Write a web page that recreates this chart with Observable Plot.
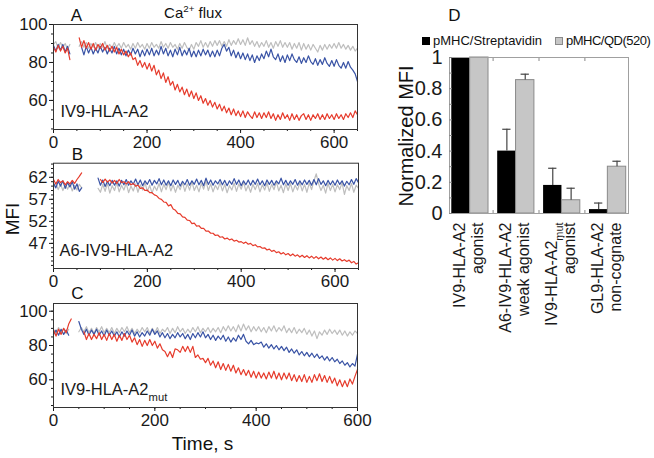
<!DOCTYPE html>
<html><head><meta charset="utf-8">
<script src="https://cdn.jsdelivr.net/npm/d3@7"></script>
<script src="https://cdn.jsdelivr.net/npm/@observablehq/plot@0.6"></script>
<style>
html,body{margin:0;padding:0;background:#fff;}
#root{position:relative;width:654px;height:458px;overflow:hidden;font-family:"Liberation Sans",Arial,Helvetica,sans-serif;color:#111;background:#fff;}
.abs{position:absolute;}
.lbl{position:absolute;transform:translate(-50%,-50%);line-height:1;white-space:nowrap;}
</style></head><body><div id="root"></div>
<script>
// ---------- data: time step of the traces (s) ----------
const STEP = 5;

// Panel A: IV9-HLA-A2, t = 0..650 s
const A_red = [
 88, 85.5, 89, 86, 88.5, 85, 87.5, 81.5, null, null,
 null, 93, 88, 91.5, 87.5, 90.5, 87, 90, 86.5, 89.5,
 87.5, 90, 86.5, 89, 86, 88.5, 85.5, 88, 84.5, 87,
 84, 86, 83, 85, 81.5, 82.5, 78.5, 81, 77.5, 80,
 76.5, 79.5, 75.5, 78.5, 73.5, 76, 71.5, 74.5, 69.5, 72.5,
 68, 70, 65.5, 68.5, 64.5, 67, 63, 66, 62, 65,
 61, 64, 60, 62.5, 58.5, 61, 57.5, 60, 56.5, 59,
 55.5, 58, 54.5, 57, 53.5, 56, 52.5, 55.5, 52, 54.5,
 51.5, 54.5, 51, 54, 52, 50.5, 54, 51, 53.5, 50.5,
 53.5, 51, 54, 50.5, 53, 49.5, 52.5, 50, 53.5, 50.5,
 52.5, 49.5, 53, 50, 52.5, 49.5, 52, 53, 50, 52.5,
 49.5, 52.5, 50.5, 53, 50, 52.5, 50, 53, 50.5, 52.5,
 50, 53, 50.5, 52.5, 50, 53, 51, 53.5, 51, 54.5,
 52.5];
const A_blue = [
 89, 86, 89.5, 86.5, 89.5, 85.5, 88.5, 84.5, null, null,
 null, null, 88, 84, 88.5, 85, 88, 84.5, 87.5, 85,
 88.5, 85.5, 88, 84.5, 87.5, 85, 88.5, 84.5, 87.5, 84,
 87, 83.5, 86.5, 84, 87.5, 84.5, 87, 83, 86.5, 83.5,
 87, 84, 87.5, 83.5, 86.5, 84, 88.5, 84.5, 87.5, 83.5,
 86.5, 83, 87, 84, 88, 83.5, 86.5, 84, 87.5, 83,
 86, 83, 86.5, 83.5, 87, 84, 86.5, 83, 86, 83,
 86.5, 83.5, 87.5, 89.5, 86, 88, 83.5, 86.5, 82.5, 85.5,
 82, 85, 81.5, 84.5, 81, 84, 80, 83.5, 81, 84.5,
 82, 86, 83, 87, 83, 81.5, 84.5, 80.5, 83.5, 80,
 84, 81, 84.5, 81.5, 80, 83, 79.5, 82.5, 80, 83.5,
 80.5, 79, 82, 78.5, 81.5, 79, 82.5, 79.5, 78, 81,
 78, 81.5, 78.5, 77, 80, 77, 80.5, 77.5, 76, 74,
 70];
const A_gray = [
 89.5, 91, 87.5, 90.5, 88, 90, 87, 89.5, null, null,
 null, 88.5, 91, 88, 90.5, 87.5, 90, 88, 90.5, 87.5,
 90, 88, 91, 87.5, 89.5, 87.5, 90.5, 88, 90, 87.5,
 90.5, 88, 89.5, 87, 90, 87.5, 90.5, 88, 89.5, 87,
 90, 87.5, 90.5, 88, 89.5, 87.5, 91, 88, 90, 87.5,
 90.5, 88, 89.5, 87, 90, 87.5, 90.5, 88, 86.5, 89.5,
 87, 90.5, 88.5, 91.5, 88, 90.5, 88, 91, 88.5, 91.5,
 89, 91.5, 88.5, 91, 88.5, 92, 89, 91.5, 89.5, 92.5,
 89.5, 92, 89, 93, 89.5, 91.5, 88.5, 91, 88, 90.5,
 88.5, 91.5, 88, 90.5, 87.5, 91, 88.5, 91.5, 88, 90.5,
 88, 90.5, 87, 90, 87.5, 90.5, 86.5, 90, 87, 89.5,
 86.5, 89.5, 87.5, 85.5, 89, 86.5, 89.5, 87, 89.5, 87.5,
 90, 87.5, 90.5, 87.5, 89.5, 87, 89, 86.5, 88.5, 86,
 87.5];

// Panel B: A6-IV9-HLA-A2, t = 0..650 s
const B_red = [
 61.5, 60.5, 61.5, 60.8, 61.2, 60.3, 61, 60.5, 61.3, 60.6,
 61.5, 62.2, 63, null, null, null, null, null, null, null,
 61.5, 60.8, 61.6, 60.9, 61.4, 60.7, 61.3, 60.6, 61.5, 60.8,
 61, 60.5, 61, 60.3, 60.6, 60, 60.2, 59.5, 59.6, 59,
 59.1, 58.5, 58.5, 58, 57.8, 57.2, 57, 56.4, 56.3, 55.5,
 55.8, 54.8, 54.5, 53.8, 53.7, 53, 52.9, 52.3, 52.2, 51.5,
 51.6, 50.9, 51, 50.4, 50.4, 49.8, 49.8, 49.3, 49.3, 48.8,
 48.9, 48.4, 48.5, 48, 48.2, 47.8, 48, 47.5, 47.7, 47.3,
 47.4, 47, 47.3, 46.8, 47, 46.5, 46.7, 46.2, 46.3, 45.9,
 46, 45.5, 45.7, 45.2, 45.4, 44.9, 45.1, 44.6, 44.9, 44.4,
 44.7, 44.2, 44.6, 44.1, 44.4, 43.9, 44.3, 43.8, 44.2, 43.7,
 44.1, 43.6, 44, 43.5, 43.9, 43.4, 43.8, 43.3, 43.7, 43.2,
 43.6, 43.1, 43.5, 43, 43.3, 42.9, 43.2, 42.6, 42.9, 42.3,
 42.6];
const B_blue = [
 60.7, 59.6, 61.1, 60, 61.2, 59.5, 60.8, 59.8, 61, 59.3,
 60.5, 58.8, 59.6, null, null, null, null, null, null, 61.8,
 60.2, 61.4, 59.9, 61.1, 60.1, 61.3, 60.2, 61.2, 60, 61.3,
 60.3, 61.5, 60.2, 61.2, 60.4, 61.6, 60.3, 61.4, 60.1, 61.2,
 60.4, 61.5, 60.2, 61.3, 60.5, 61.7, 60.3, 61.4, 60.2, 61.2,
 60.1, 61.4, 60.4, 61.3, 60, 61.1, 60.3, 61.5, 60.2, 61.2,
 60.4, 61.6, 60.3, 61.3, 60.1, 61.8, 60.4, 61.4, 60.2, 61.2,
 60.5, 61.5, 60.3, 61.3, 60.1, 61.2, 60.4, 61.7, 60.4, 61.4,
 60.1, 61.2, 60.3, 61.4, 60.2, 61.3, 60.4, 61.6, 60.3, 61.2,
 60.1, 61.4, 60.4, 61.3, 60.2, 61.2, 60.5, 61.8, 60.3, 61.3,
 60.2, 61.2, 60.4, 61.5, 60.2, 61.2, 60.3, 61.4, 60.4, 61.3,
 60.2, 61.5, 60.3, 61.7, 60.4, 61.2, 60.1, 61.3, 60.3, 61.2,
 60.2, 61.4, 60.4, 61.2, 60, 61.1, 60.3, 61.5, 60.4, 61.7,
 60.8];
const B_gray = [
 59.6, 60.8, 59.2, 60.5, 59, 60.3, 59.3, 60.6, 58.9, 60.2,
 59.1, 60.4, 59.6, null, null, null, null, null, null, 59.5,
 58.6, 60.4, 58.8, 60.7, 58.4, 60.1, 59, 60.8, 58.7, 60.2,
 59.1, 60.7, 58.5, 60, 58.9, 60.5, 58.6, 60.3, 59.1, 60.8,
 58.8, 60.2, 58.4, 60, 59, 60.6, 58.7, 60.4, 59.2, 60.9,
 58.9, 60.3, 58.6, 60.2, 59.2, 60.8, 58.8, 60.5, 59.1, 61,
 59, 60.2, 58.7, 60.6, 59.3, 61.2, 59, 60.5, 58.7, 60.2,
 59.2, 60.8, 58.9, 60.4, 58.5, 60.1, 59.1, 60.7, 58.8, 60.5,
 59.3, 60.9, 58.9, 60.2, 58.6, 60.4, 59.2, 60.6, 58.7, 60.3,
 59.1, 60.7, 58.8, 60.4, 59.2, 61, 58.9, 60.2, 58.5, 60.5,
 59, 60.6, 58.7, 60.2, 59.1, 60.8, 58.9, 60.4, 58.6, 60.7,
 59.2, 61.2, 62.8, 60.5, 59, 60.2, 58.4, 60.6, 59, 60.4,
 58.7, 60.3, 59.2, 60.8, 58.1, 60.1, 59, 60.6, 58.6, 60.2,
 59.5];

// Panel C: IV9-HLA-A2mut, t = 0..600 s
const C_red = [
 89, 85.5, 89.5, 86.5, 90, 87.5, 92.5, 95.5, null, null,
 null, null, 88, 83.5, 87, 83.5, 86.5, 84, 87.5, 83.5,
 86.5, 83, 87, 83.5, 86.5, 82.5, 86, 83, 87, 83.5,
 86, 82, 84.5, 80.5, 83.5, 79.5, 83, 80, 83.5, 80,
 82.5, 78.5, 81, 77.5, 76.5, 73.5, 76.5, 73, 78, 77.5,
 76, 79.5, 76.5, 79.5, 76, 79.5, 73, 74.5, 72, 72.5,
 70, 72.5, 68.5, 71, 67, 70.5, 66, 69.5, 65.5, 69,
 65, 68.5, 64, 67, 63, 66, 62.5, 65.5, 61.5, 65,
 61, 64.5, 61, 64, 60.5, 64.5, 61, 65, 60.5, 64,
 60, 64, 60.5, 64, 59.5, 63, 59, 62.5, 59, 63,
 58.5, 62, 58.5, 63, 59.5, 63.5, 59, 62.5, 58.5, 62,
 58, 61, 56.5, 60, 56, 59.5, 56, 60.5, 57.5, 62,
 66];
const C_blue = [
 86.5, 89, 86, 89.5, 86.5, 89, 86, null, null, null,
 94, 89.5, 86.5, 89.5, 86, 89, 86.5, 89.5, 86, 88.5,
 85.5, 89, 86, 88.5, 85.5, 88, 85, 88, 85.5, 88.5,
 86, 89, 85.5, 88, 85, 87.5, 85.5, 88.5, 86, 89.5,
 86.5, 88.5, 85, 87.5, 84.5, 87, 84, 86.5, 84.5, 87.5,
 85, 87, 84, 86.5, 83.5, 87, 84.5, 87.5, 85, 88,
 84.5, 86.5, 83.5, 86, 83, 85.5, 83.5, 86, 82.5, 85,
 82, 84.5, 82.5, 86, 83.5, 86.5, 82.5, 81, 83, 80.5,
 81.5, 81, 82, 79, 81, 78.5, 80.5, 78, 80, 77.5,
 79.5, 77, 79, 76, 78, 75.5, 77.5, 74.5, 76.5, 74,
 76, 73.5, 75.5, 73, 75, 72.5, 74, 71.5, 73.5, 71,
 73, 70.5, 72, 69.5, 71, 68.5, 70, 67.5, 69.5, 68,
 75];
const C_gray = [
 89.5, 87, 90.5, 87.5, 90, 87, 89.5, null, null, null,
 88, 90.5, 88, 91, 87.5, 90, 87, 90.5, 88, 91,
 87.5, 90, 87.5, 90.5, 87, 90, 87.5, 90.5, 88, 91,
 87.5, 90, 87, 89.5, 87.5, 90.5, 88, 90.5, 87, 90,
 87.5, 90.5, 87, 89.5, 88, 90.5, 87, 90, 87.5, 91,
 88, 90, 87, 89.5, 87.5, 90.5, 88, 91, 87.5, 90,
 88, 90.5, 87.5, 90, 88, 90.5, 87.5, 91, 88.5, 91.5,
 88.5, 91, 88, 92, 88.5, 92.5, 89, 91.5, 88, 91,
 88.5, 91, 88, 90.5, 87.5, 91, 88.5, 91.5, 88, 90.5,
 88.5, 91.5, 87.5, 90, 87.5, 90.5, 87, 89.5, 87.5, 90,
 86.5, 89, 85.5, 88.5, 84, 88, 86, 89, 86.5, 89.5,
 87, 89, 86.5, 89, 86, 88.5, 85.5, 88, 86, 88.5,
 87];

// Panel D: normalized MFI
const groupLine1 = ["IV9-HLA-A2", "A6-IV9-HLA-A2", "IV9-HLA-A2mut", "GL9-HLA-A2"];
const groupLine2 = ["agonist", "weak agonist", "agonist", "non-cognate"];
const streptValues = [1, 0.40, 0.18, 0.025];
const streptErrTop = [null, 0.54, 0.29, 0.067];
const qdValues = [1, 0.855, 0.085, 0.30];
const qdErrTop = [null, 0.893, 0.162, 0.335];
const seriesNames = ["pMHC/Streptavidin", "pMHC/QD(520)"];

// ---------- styles ----------
const COL = {red: "#e63b2c", blue: "#3953a5", gray: "#bebebe"};
const FONT = '"Liberation Sans", Arial, Helvetica, sans-serif';
const root = document.getElementById("root");

function place(node, left, top, w) {
  const d = document.createElement("div");
  d.className = "abs";
  d.style.left = left + "px"; d.style.top = top + "px";
  if (w) d.style.width = w + "px";
  d.appendChild(node);
  root.appendChild(d);
}
function label(html, x, y, size, rot) {
  const d = document.createElement("div");
  d.className = "lbl";
  d.style.left = x + "px"; d.style.top = y + "px";
  d.style.fontSize = size + "px";
  if (rot) d.style.transform = "translate(-50%,-50%) rotate(" + rot + "deg)";
  d.innerHTML = html;
  root.appendChild(d);
}

function trace(arr) { return arr.map((v, i) => ({t: i * STEP, v: v == null ? NaN : v})); }

function panel(o) {
  return Plot.plot({
    width: 380, height: o.height,
    marginLeft: 53, marginRight: o.mr, marginTop: o.mt, marginBottom: o.mb,
    x: {domain: [0, o.xMax]},
    y: {domain: o.yDomain},
    style: {fontFamily: FONT, fontSize: "17px", color: "#1a1a1a", background: "transparent", overflow: "visible"},
    marks: [
      Plot.axisY({ticks: o.yMinor, tickSize: 2, tickFormat: () => "", label: null}),
      Plot.axisY({ticks: o.yTicks, tickSize: 4, tickPadding: 2, label: null}),
      Plot.axisX({ticks: d3.range(0, o.xMax + 1, 50), tickSize: 2, tickFormat: () => "", label: null}),
      Plot.axisX({ticks: [0, 200, 400, 600], tickSize: 4, tickPadding: 2, label: null}),
      Plot.line(trace(o.gray), {x: "t", y: "v", stroke: COL.gray, strokeWidth: 1.2}),
      Plot.line(trace(o.blue), {x: "t", y: "v", stroke: COL.blue, strokeWidth: 1.2}),
      Plot.line(trace(o.red), {x: "t", y: "v", stroke: COL.red, strokeWidth: 1.2}),
      Plot.frame({stroke: "#333", strokeWidth: 1}),
      Plot.text([o.name], {text: d => d, frameAnchor: "bottom-left", textAnchor: "start", lineAnchor: "middle", dx: o.ndx, dy: o.ndy, fontSize: o.nfs})
    ]
  });
}

place(panel({height: 160, mt: 24, mb: 31, mr: 23, xMax: 650, yDomain: [44.7, 100],
  yTicks: [60, 80, 100], yMinor: d3.range(45, 101, 5),
  red: A_red, blue: A_blue, gray: A_gray, name: "IV9-HLA-A2", ndx: 7, ndy: -18, nfs: 16.5}), 0, 0, 380);

place(panel({height: 160, mt: 22.7, mb: 32, mr: 22, xMax: 650, yDomain: [41.3, 65.2],
  yTicks: [47, 52, 57, 62], yMinor: d3.range(42, 66, 1),
  red: B_red, blue: B_blue, gray: B_gray, name: "A6-IV9-HLA-A2", ndx: 6, ndy: -18, nfs: 16.5}), 0, 140, 380);

place(panel({height: 173, mt: 18, mb: 51, mr: 23, xMax: 600, yDomain: [43.85, 104.5],
  yTicks: [60, 80, 100], yMinor: d3.range(45, 105, 5),
  red: C_red, blue: C_blue, gray: C_gray, name: "IV9-HLA-A2mut", ndx: 7, ndy: -18, nfs: 16.5}), 0, 285, 380);

// ---------- Panel D ----------
const bars = [];
groupLine1.forEach((g, i) => {
  bars.push({i, s: 0, v: streptValues[i], e: streptErrTop[i]});
  bars.push({i, s: 1, v: qdValues[i], e: qdErrTop[i]});
});
const W = 0.4;
const x1 = d => d.s === 0 ? d.i - W : d.i;
const x2 = d => d.s === 0 ? d.i : d.i + W;
const xc = d => d.s === 0 ? d.i - W / 2 : d.i + W / 2;
const errs = bars.filter(d => d.e != null);

const plotD = Plot.plot({
  width: 274, height: 458,
  marginLeft: 69, marginRight: 26, marginTop: 57, marginBottom: 245,
  x: {domain: [-0.45, 3.45]},
  y: {domain: [0, 1]},
  style: {fontFamily: FONT, fontSize: "20px", color: "#1a1a1a", background: "transparent", overflow: "visible"},
  marks: [
    Plot.rectY(bars.filter(d => d.s === 0), {x1, x2, y: "v", fill: "#000"}),
    Plot.rectY(bars.filter(d => d.s === 1), {x1, x2, y: "v", fill: "#c6c6c6", stroke: "#8a8a8a", strokeWidth: 1}),
    Plot.ruleX(errs, {x: xc, y1: "v", y2: "e", stroke: "#444", strokeWidth: 1.2}),
    Plot.ruleY(errs, {y: "e", x1: d => xc(d) - 0.09, x2: d => xc(d) + 0.09, stroke: "#444", strokeWidth: 1.2}),
    Plot.frame({stroke: "#a0a0a0"}),
    Plot.axisY({ticks: d3.range(0, 11).map(k => k / 10), tickSize: 3, dx: 3, tickFormat: () => "", label: null, stroke: "#888"}),
    Plot.axisY({ticks: [0, 0.2, 0.4, 0.6, 0.8, 1], tickSize: 0, tickPadding: 7, tickFormat: d => String(+d.toFixed(1)), label: null}),
    Plot.axisX({anchor: "bottom", ticks: [0.5, 1.5, 2.5], tickSize: 3, dy: -3, tickFormat: () => "", label: null, stroke: "#888"}),
    Plot.axisX({anchor: "top", ticks: [0.5, 1.5, 2.5], tickSize: 3, dy: 3, tickFormat: () => "", label: null, stroke: "#888"}),
    Plot.text(groupLine1, {x: (d, i) => i, frameAnchor: "bottom", text: (d, i) => groupLine1[i] + "\n" + groupLine2[i],
      rotate: -90, textAnchor: "end", lineAnchor: "middle", dy: 9, dx: -2, fontSize: 16, lineHeight: 1.12})
  ]
});
place(plotD, 380, 0, 274);

// subscript "mut"
root.querySelectorAll("text, tspan").forEach(el => {
  for (const node of [...el.childNodes]) {
    if (node.nodeType === 3 && node.nodeValue.includes("A2mut")) {
      node.nodeValue = node.nodeValue.replace("mut", "");
      const ts = document.createElementNS("http://www.w3.org/2000/svg", "tspan");
      ts.setAttribute("baseline-shift", "sub");
      ts.setAttribute("font-size", "0.68em");
      ts.textContent = "mut";
      node.after(ts);
    }
  }
});

// ---------- HTML labels ----------
label("A", 76.5, 15, 17);
label("B", 77.5, 154, 17);
label("C", 77.5, 293, 17);
label("D", 454.5, 15, 17);
label('Ca<sup style="font-size:0.65em;vertical-align:0.55em">2+</sup> flux', 193, 12, 15);
label("MFI", 12, 219, 19, -90);
label("Time, s", 202.5, 443, 19);
label("Normalized MFI", 406, 136, 20, -90);

// legend
function legendItem(text, fill, stroke, left, ls) {
  const d = document.createElement("div");
  d.style.cssText = "display:flex;align-items:center;font-size:13px;line-height:14px;white-space:nowrap;letter-spacing:" + ls + "px";
  const sw = document.createElement("span");
  sw.style.cssText = "display:inline-block;flex:none;width:8px;height:8px;margin-right:3px;background:" + fill + ";border:1px solid " + stroke + ";box-sizing:border-box";
  const tx = document.createElement("span");
  tx.textContent = text;
  d.appendChild(sw); d.appendChild(tx);
  place(d, left, 34);
}
legendItem(seriesNames[0], "#000", "#000", 422, 0);
legendItem(seriesNames[1], "#c6c6c6", "#8a8a8a", 555, -0.5);
</script></body></html>
